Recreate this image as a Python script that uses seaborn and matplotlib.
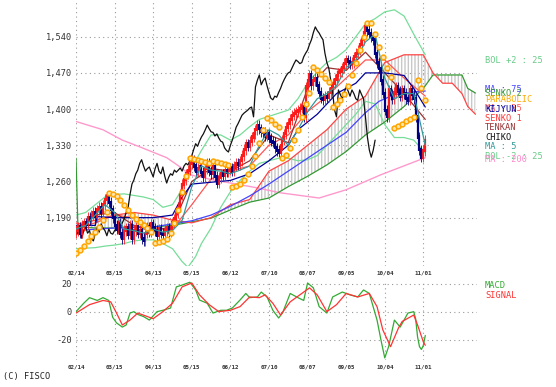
import numpy as np
import matplotlib
matplotlib.use("Agg")
import matplotlib.pyplot as plt
import seaborn as sns

# trading day index: 0 = 02/14, 20 days between date labels
date_labels = ['02/14', '03/15', '04/13', '05/15', '06/12', '07/10', '08/07', '09/05', '10/04', '11/01']
date_pos = [0, 20, 40, 60, 80, 100, 120, 140, 160, 180]
price_ticks = [1190, 1260, 1330, 1400, 1470, 1540]
macd_ticks = [-20, 0, 20]

# daily closes (i = 0..181)
closes = [1165, 1172, 1160, 1175, 1180, 1178, 1190, 1185, 1195, 1200,
          1192, 1205, 1210, 1200, 1215, 1225, 1232, 1220, 1205, 1190,
          1175, 1168, 1180, 1160, 1150, 1165,
          1170, 1158, 1175, 1150, 1165, 1172, 1160, 1165, 1150, 1145,
          1160, 1172, 1162, 1178, 1170, 1165, 1155, 1168, 1160, 1158,
          1165, 1170, 1162, 1170, 1180, 1188, 1200, 1210, 1235, 1255,
          1263, 1275, 1282, 1295, 1302, 1290, 1280, 1285, 1288, 1278,
          1269, 1285, 1295, 1280, 1275, 1288, 1270, 1257, 1268, 1275,
          1272, 1282, 1278, 1282, 1286, 1280, 1290, 1295, 1292, 1300,
          1310, 1322, 1333, 1328, 1338, 1346, 1352, 1360, 1369, 1362,
          1356, 1355, 1348, 1352, 1344, 1338, 1336, 1325, 1320, 1317,
          1330, 1340, 1352, 1365, 1372, 1380, 1388, 1392, 1395, 1398,
          1402, 1404, 1385, 1443, 1456, 1466, 1447, 1455, 1460, 1445,
          1432, 1421, 1418, 1425, 1423, 1432, 1440, 1450, 1458, 1465,
          1470, 1472, 1480, 1488, 1495, 1492, 1488, 1490, 1501, 1508,
          1514, 1525, 1534, 1548, 1559, 1552, 1547, 1540, 1534, 1508,
          1490, 1479, 1456, 1431, 1398, 1385, 1437, 1428, 1420, 1432,
          1443, 1435, 1425, 1437, 1430, 1420, 1417, 1437, 1428, 1420,
          1385, 1346, 1321, 1307, 1320, 1340]
chiko_shift = 26

ma5_idx = [0, 5, 10, 15, 20, 25, 30, 35, 40, 45, 50, 55, 60, 65, 70, 75, 80, 85, 90, 95,
           100, 105, 110, 115, 120, 125, 130, 135, 140, 145, 150, 155, 160, 165, 170, 175, 178, 181]
ma5 = [1168, 1175, 1195, 1215, 1200, 1168, 1165, 1160, 1168, 1162, 1165, 1185, 1250, 1290, 1282,
       1280, 1275, 1282, 1290, 1330, 1360, 1350, 1330, 1360, 1395, 1420, 1430, 1445, 1480,
       1495, 1530, 1545, 1460, 1420, 1430, 1430, 1380, 1330]

ma25_idx = [0, 10, 20, 30, 40, 50, 60, 70, 80, 90, 100, 110, 120, 130, 140, 150, 160, 170, 181]
ma25 = [1170, 1180, 1195, 1190, 1170, 1168, 1215, 1265, 1280, 1290, 1330, 1350, 1395, 1425, 1460,
        1495, 1495, 1460, 1425]

ma75_idx = [0, 20, 40, 50, 60, 70, 80, 90, 100, 110, 120, 130, 140, 150, 157, 165, 175, 181]
ma75 = [1165, 1170, 1172, 1178, 1184, 1195, 1212, 1232, 1255, 1280, 1305, 1330, 1355, 1393,
        1415, 1428, 1433, 1435]

ma200_idx = [0, 14, 24, 33, 47, 54, 59, 71, 92, 106, 126, 140, 158, 181]
ma200 = [1376, 1360, 1340, 1327, 1306, 1288, 1273, 1263, 1249, 1238, 1228, 1244, 1273, 1306]

bol_idx = [0, 5, 10, 15, 20, 25, 30, 35, 40, 45, 50, 55, 58, 62, 65, 70, 75, 80, 85, 90, 95,
           100, 105, 110, 115, 120, 125, 130, 135, 140, 145, 150, 155, 160, 165, 170, 175, 181]
bol_up = [1195, 1200, 1215, 1230, 1235, 1236, 1233, 1230, 1225, 1210, 1215, 1245, 1270, 1300,
          1320, 1350, 1350, 1340, 1350, 1366, 1380, 1386, 1392, 1398, 1420, 1450, 1472, 1490,
          1500, 1515, 1540, 1565, 1575, 1588, 1592, 1580, 1545, 1505]
bol_dn = [1130, 1131, 1132, 1135, 1137, 1140, 1145, 1147, 1147, 1140, 1130, 1105, 1094, 1115,
          1140, 1170, 1210, 1240, 1262, 1280, 1295, 1300, 1305, 1305, 1300, 1302, 1310, 1330,
          1350, 1370, 1390, 1415, 1410, 1370, 1345, 1345, 1340, 1315]

tenkan_idx = [0, 10, 20, 30, 40, 50, 60, 70, 80, 90, 100, 110, 120, 130, 140, 150, 160, 170, 181]
tenkan = [1168, 1195, 1200, 1175, 1162, 1175, 1260, 1285, 1280, 1300, 1350, 1335, 1440, 1480,
          1475, 1510, 1470, 1430, 1380]

kijyun_idx = [0, 10, 11, 20, 40, 50, 55, 60, 80, 90, 100, 110, 115, 125, 135, 145, 150, 160,
              170, 175, 181]
kijyun = [1175, 1175, 1192, 1190, 1190, 1195, 1230, 1255, 1262, 1275, 1300, 1330, 1360, 1390,
          1430, 1450, 1470, 1470, 1465, 1440, 1404]

cloud_idx = [0, 1, 10, 20, 30, 40, 50, 60, 70, 80, 90, 100, 110, 120, 130, 140, 150, 160, 170,
             180, 185, 190, 195, 200, 203, 207]
senko1 = [1180, 1178, 1185, 1195, 1200, 1195, 1185, 1180, 1190, 1215, 1225, 1280, 1300, 1330,
          1360, 1400, 1425, 1490, 1505, 1505, 1470, 1450, 1450, 1430, 1405, 1390]
senko2 = [1305, 1172, 1170, 1170, 1172, 1172, 1175, 1182, 1189, 1205, 1220, 1228, 1250, 1270,
          1292, 1318, 1350, 1375, 1405, 1440, 1466, 1466, 1466, 1466, 1440, 1431]

sar_idx = [0, 2, 4, 6, 8, 10, 12, 14, 16,
           17, 19, 21, 23, 25, 27, 29, 31, 33, 35, 37, 39,
           41, 43, 45, 47, 49, 51, 53, 55, 57,
           59, 61, 63, 65, 67, 69, 71, 73, 75, 77, 79,
           81, 83, 85, 87, 89, 91, 93, 95, 97,
           99, 101, 103, 105,
           107, 109, 111, 113, 115, 117, 119, 121,
           123, 125, 127, 129, 131,
           133, 135, 137, 139, 141, 143, 145, 147, 149, 151,
           153, 155, 157, 159, 161, 163,
           165, 167, 169, 171, 173, 175,
           177, 179, 181]
sar = [1122, 1128, 1136, 1145, 1155, 1163, 1172, 1185, 1200,
       1237, 1236, 1232, 1225, 1215, 1205, 1195, 1188, 1182, 1176, 1170, 1162,
       1141, 1143, 1145, 1148, 1160, 1180, 1205, 1240, 1270,
       1305, 1304, 1302, 1300, 1298, 1296, 1300, 1298, 1296, 1294, 1292,
       1250, 1252, 1255, 1262, 1275, 1290, 1310, 1335, 1360,
       1383, 1378, 1372, 1365,
       1305, 1312, 1325, 1340, 1360, 1385, 1410, 1432,
       1482, 1475, 1468, 1460, 1452,
       1404, 1410, 1418, 1430, 1445, 1465, 1490, 1515, 1540, 1566,
       1566, 1545, 1520, 1500, 1480, 1462,
       1363, 1368, 1372, 1376, 1380, 1385,
       1456, 1440, 1418]

macd_idx = [0, 4, 7, 11, 14, 17, 19, 21, 24, 26, 28, 30, 32, 35, 38, 42, 45, 49, 52, 55, 59,
            62, 64, 68, 71, 75, 78, 81, 85, 88, 90, 94, 96, 99, 102, 105, 107, 111, 115, 118,
            120, 123, 126, 130, 133, 138, 142, 146, 149, 152, 156, 158, 160, 162, 165, 168,
            172, 175, 176, 177, 178, 179, 180, 181]
macd = [0, 6, 10, 8, 10, 8, -4, -8, -11, -9.5, -1, 0, -2, -3.5, -6, 0, 1, 2.6, 17.7, 19, 21,
        15.5, 8.3, 6, -1, 1, 1, 2.6, 8.3, 13, 10, 10.5, 14, 10.5, 1, -4.5, -1, 13, 10, 8,
        20.5, 17, 3.6, -1, 10.5, 14, 12, 10.5, 15.5, 13, -6, -20, -33, -25, -6, -11,
        -1, 0, -5, -18, -25, -27, -24, -17]
signal_idx = [0, 7, 14, 18, 21, 24, 28, 32, 37, 40, 45, 50, 55, 60, 64, 69, 74, 80, 85, 90,
              95, 98, 102, 106, 111, 116, 121, 125, 130, 135, 140, 146, 152, 156, 159, 163,
              167, 169, 175, 177, 180, 181]
signal = [-1, 5, 8, 7, -1, -9.5, -6, -1, -3.5, -5, 0, 6, 17.7, 20.5, 12, 5, 0, 1, 3.6, 10.5,
          10, 12, 6, -2.4, 7, 12, 17, 12, 0, 5, 13, 10.5, 13, 3.6, -13, -25, -12, -7, -2.4,
          -9.5, -21.6, -24]

labels = [('BOL +2 : 25', '#66cc88', 60.7), ('MA : 75', '#4444ff', 90), ('SENKO 2', '#339933', 94),
          ('PARABOLIC', '#ffaa00', 100), ('MA : 25', '#ff5555', 108.3), ('KIJYUN', '#000099', 109.3),
          ('SENKO 1', '#ff3333', 118.3), ('TENKAN', '#993333', 127.3), ('CHIKO', '#111111', 137.3),
          ('MA : 5', '#339999', 146.7), ('BOL -2 : 25', '#66cc88', 156), ('MA : 200', '#ff88cc', 159.3)]

sns.set_style('white')
plt.rcParams['font.family'] = ['DejaVu Sans Mono']

W, H = 556, 387
fig = plt.figure(figsize=(W / 100, H / 100), dpi=100)
ax = fig.add_axes([76 / W, 1 - 266 / H, 401 / W, 266 / H])
ax2 = fig.add_axes([76 / W, 1 - 360 / H, 401 / W, 80 / H])

grid_kw = dict(color='#999999', linestyle=(0, (1, 3)), linewidth=0.8)
xl = (0, 207.8)

# cloud
ax.fill_between(cloud_idx, senko1, senko2, facecolor='none', edgecolor='#c8c8c8',
                hatch='|||||', linewidth=0, zorder=1)

line_specs = [
    (ma200_idx, ma200, '#ff99cc', 1.0),
    (bol_idx, bol_up, '#77dd99', 0.9),
    (bol_idx, bol_dn, '#77dd99', 0.9),
    (cloud_idx, senko2, '#339933', 0.9),
    (cloud_idx, senko1, '#ff4444', 0.9),
    (ma75_idx, ma75, '#4444ff', 0.9),
    (ma25_idx, ma25, '#ff5555', 0.9),
    (tenkan_idx, tenkan, '#993333', 0.9),
    (kijyun_idx, kijyun, '#000099', 0.9),
]
for xs, ys, c, lw in line_specs:
    sns.lineplot(x=xs, y=ys, ax=ax, color=c, linewidth=lw, zorder=2)

closes_arr = np.array(closes, dtype=float)
chiko_x = np.arange(len(closes)) - chiko_shift
sns.lineplot(x=chiko_x[chiko_shift:], y=closes_arr[chiko_shift:], ax=ax, color='#111111',
             linewidth=0.9, zorder=3)

# candles: open = previous close, wick a little past the body
idx = np.arange(len(closes))
opens = np.r_[closes_arr[0] - 5, closes_arr[:-1]]
up = closes_arr >= opens
lo = np.minimum(opens, closes_arr) - 3
hi = np.maximum(opens, closes_arr) + 3
for mask, col in ((up, '#ff1a1a'), (~up, '#000080')):
    ax.vlines(idx[mask], lo[mask] - 7, hi[mask] + 7, color=col, linewidth=0.6, zorder=4)
    ax.vlines(idx[mask], lo[mask], hi[mask], color=col, linewidth=1.6, zorder=4,
              capstyle='butt')

sns.lineplot(x=ma5_idx, y=ma5, ax=ax, color='#339999', linewidth=0.9, zorder=5)

ax.scatter(sar_idx, sar, s=12, facecolor='#ffe6b0', edgecolor='#ffa500', linewidth=1.1, zorder=6)

ax.set_xlim(*xl)
ax.set_ylim(1096.5, 1611)
ax.set_yticks(price_ticks)
ax.set_yticklabels([f'{v:,}' for v in price_ticks], fontsize=6.2, color='#333333')
ax.set_xticks(date_pos)
ax.set_xticklabels(date_labels, fontsize=4.2, fontweight='bold', color='#333333')

# MACD
sns.lineplot(x=macd_idx, y=macd, ax=ax2, color='#33aa33', linewidth=0.9)
sns.lineplot(x=signal_idx, y=signal, ax=ax2, color='#ff3333', linewidth=0.9)
ax2.set_xlim(*xl)
ax2.set_ylim(-34.5, 22.6)
ax2.set_yticks(macd_ticks)
ax2.set_yticklabels([str(v) for v in macd_ticks], fontsize=6.2, color='#333333')
ax2.set_xticks(date_pos)
ax2.set_xticklabels(date_labels, fontsize=4.2, fontweight='bold', color='#333333')

for a in (ax, ax2):
    for s in a.spines.values():
        s.set_visible(False)
    a.grid(True, **grid_kw)
    a.tick_params(length=0, pad=3)
    a.set_xlabel('')
    a.set_ylabel('')

for text, c, y in labels:
    fig.text(485 / W, 1 - y / H, text, color=c, fontsize=6.2, va='center', ha='left')
fig.text(485 / W, 1 - 285 / H, 'MACD', color='#33aa33', fontsize=6.2, va='center')
fig.text(485 / W, 1 - 295 / H, 'SIGNAL', color='#ff3333', fontsize=6.2, va='center')
fig.text(3 / W, 1 - 377 / H, '(C) FISCO', color='#222222', fontsize=6.2, va='center')

fig.savefig('out.png', dpi=100)
